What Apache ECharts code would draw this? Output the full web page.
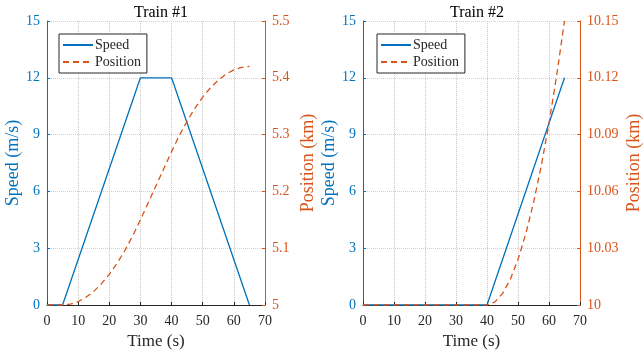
<!DOCTYPE html>
<html>
<head>
<meta charset="utf-8">
<script src="https://cdn.jsdelivr.net/npm/echarts@6/dist/echarts.min.js"></script>
<style>
  html, body { margin: 0; padding: 0; background: #fff; }
  #chart { width: 644px; height: 360px; }
</style>
</head>
<body>
<div id="chart"></div>
<script>
// data
const titles = ['Train #1', 'Train #2']
const timeTicks = [0, 10, 20, 30, 40, 50, 60, 70]
const speedTicks = [0, 3, 6, 9, 12, 15]
const posTicks1 = [5, 5.1, 5.2, 5.3, 5.4, 5.5]
const posTicks2 = [10, 10.03, 10.06, 10.09, 10.12, 10.15]

// train 1: speed (m/s) vs time (s)
const speed1 = [[0, 0], [5, 0], [30, 12], [40, 12], [65, 0]]
// train 1: position (km) vs time (s)
const pos1 = [
  [0, 5], [5, 5], [7.5, 5.0015], [10, 5.006], [12.5, 5.0135], [15, 5.024],
  [17.5, 5.0375], [20, 5.054], [22.5, 5.0735], [25, 5.096], [27.5, 5.1215],
  [30, 5.15], [32.5, 5.18], [35, 5.21], [37.5, 5.24], [40, 5.27],
  [42.5, 5.2985], [45, 5.324], [47.5, 5.3465], [50, 5.366], [52.5, 5.3825],
  [55, 5.396], [57.5, 5.4065], [60, 5.414], [62.5, 5.4185], [65, 5.42]
]
// train 2
const speed2 = [[0, 0], [40, 0], [65, 12]]
const pos2 = [
  [0, 10], [40, 10], [42.5, 10.0015], [45, 10.006], [47.5, 10.0135],
  [50, 10.024], [52.5, 10.0375], [55, 10.054], [57.5, 10.0735],
  [60, 10.096], [62.5, 10.1215], [65, 10.15]
]

const BLUE = '#0072BD'
const ORANGE = '#D95319'
const DARK = '#262626'
const FONT = 'Liberation Serif'

const fmt = v => String(+(+v).toFixed(2))

const grids = [
  { left: 47, right: 379, top: 21, bottom: 55 },
  { left: 363, right: 62, top: 21, bottom: 55 }
]

function xAxisFor(i) {
  return {
    type: 'value', gridIndex: i, min: timeTicks[0], max: timeTicks[timeTicks.length - 1], interval: 10,
    name: 'Time (s)', nameLocation: 'middle', nameGap: 26,
    nameTextStyle: { color: DARK, fontFamily: FONT, fontSize: 17 },
    axisLine: { lineStyle: { color: DARK, width: 1 } },
    axisTick: { inside: true, length: 3, lineStyle: { color: DARK } },
    axisLabel: { color: DARK, fontFamily: FONT, fontSize: 14, margin: 9 },
    splitLine: { show: true, lineStyle: { color: '#c8c8c8', type: 'dotted', width: 1 } }
  }
}

function speedAxisFor(i, gap) {
  return {
    type: 'value', gridIndex: i, position: 'left',
    min: speedTicks[0], max: speedTicks[speedTicks.length - 1], interval: 3,
    name: 'Speed (m/s)', nameLocation: 'middle', nameGap: gap,
    nameTextStyle: { color: BLUE, fontFamily: FONT, fontSize: 18 },
    axisLine: { show: true, lineStyle: { color: BLUE, width: 1 } },
    axisTick: { show: true, inside: true, length: 3, lineStyle: { color: BLUE } },
    axisLabel: { color: BLUE, fontFamily: FONT, fontSize: 14, margin: 7 },
    splitLine: { show: true, lineStyle: { color: '#bcd6ea', type: 'dotted', width: 1 } }
  }
}

function posAxisFor(i, ticks, gap) {
  return {
    type: 'value', gridIndex: i, position: 'right',
    min: ticks[0], max: ticks[ticks.length - 1],
    name: 'Position (km)', nameLocation: 'middle', nameGap: gap,
    nameTextStyle: { color: ORANGE, fontFamily: FONT, fontSize: 18 },
    axisLine: { show: true, onZero: false, lineStyle: { color: ORANGE, width: 1 } },
    axisTick: { show: true, inside: true, length: 3, customValues: ticks, lineStyle: { color: ORANGE } },
    axisLabel: { color: ORANGE, fontFamily: FONT, fontSize: 14, margin: 7, customValues: ticks, formatter: fmt },
    splitLine: { show: false }
  }
}

function lineSeries(name, data, xi, yi, color, dashed) {
  return {
    name, type: 'line', data, xAxisIndex: xi, yAxisIndex: yi,
    symbol: 'none', animation: false, z: dashed ? 3 : 2,
    lineStyle: { color, width: 1.3, type: dashed ? [6, 4] : 'solid' },
    itemStyle: { color }
  }
}

function legendFor(left) {
  return {
    data: ['Speed', 'Position'], orient: 'vertical', left, top: 34,
    itemWidth: 30, itemHeight: 14, itemGap: 3,
    padding: [4, 6, 4, 3], backgroundColor: '#fff',
    borderColor: DARK, borderWidth: 1, borderRadius: 0,
    itemStyle: { opacity: 0 },
    textStyle: { color: DARK, fontFamily: FONT, fontSize: 14, padding: [0, 0, 0, -3] },
    selectedMode: false
  }
}

const chart = echarts.init(document.getElementById('chart'), null, { renderer: 'canvas' })
chart.setOption({
  animation: false,
  title: [
    { text: titles[0], left: 156, top: 0, textAlign: 'center',
      textStyle: { color: '#000', fontFamily: FONT, fontSize: 16, fontWeight: 'normal' } },
    { text: titles[1], left: 472, top: 0, textAlign: 'center',
      textStyle: { color: '#000', fontFamily: FONT, fontSize: 16, fontWeight: 'normal' } }
  ],
  legend: [legendFor(59), legendFor(377)],
  grid: grids,
  xAxis: [xAxisFor(0), xAxisFor(1)],
  yAxis: [
    speedAxisFor(0, 23), posAxisFor(0, posTicks1, 34),
    speedAxisFor(1, 23), posAxisFor(1, posTicks2, 45)
  ],
  series: [
    lineSeries('Speed', speed1, 0, 0, BLUE, false),
    lineSeries('Position', pos1, 0, 1, ORANGE, true),
    lineSeries('Speed', speed2, 1, 2, BLUE, false),
    lineSeries('Position', pos2, 1, 3, ORANGE, true)
  ]
})
</script>
</body>
</html>
